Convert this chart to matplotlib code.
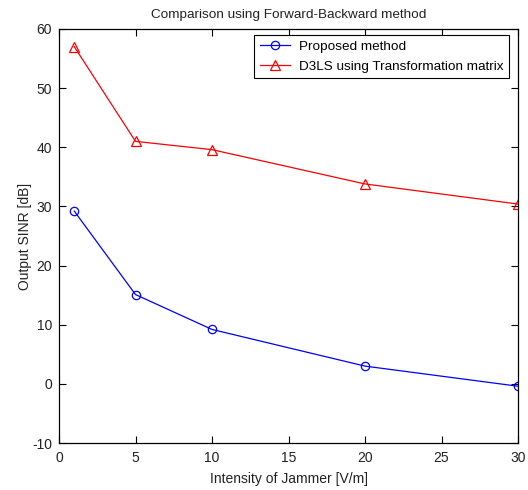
import matplotlib
matplotlib.use("Agg")
import matplotlib.pyplot as plt

plt.rcParams['font.family'] = ['Liberation Sans', 'DejaVu Sans']
plt.rcParams['axes.unicode_minus'] = False

x = [1, 5, 10, 20, 30]
proposed = [29.2, 15.1, 9.2, 3.0, -0.4]
d3ls = [57.0, 41.0, 39.6, 33.8, 30.4]
xticks = [0, 5, 10, 15, 20, 25, 30]
yticks = [-10, 0, 10, 20, 30, 40, 50, 60]

txt = '#222222'
fig = plt.figure(figsize=(5.28, 4.9), dpi=100)
ax = fig.add_axes([59/528, 47/490, 459/528, 414/490])
ax.plot(x, proposed, color='#0000ff', lw=0.9, marker='o', ms=6, mfc='none', mew=0.9,
        label='Proposed method')
ax.plot(x, d3ls, color='#ff0000', lw=0.9, marker='^', ms=6.5, mfc='none', mew=0.9,
        label='D3LS using Transformation matrix')
ax.set_xlim(0, 30)
ax.set_ylim(-10, 60)
ax.set_xticks(xticks)
ax.set_yticks(yticks)
ax.tick_params(direction='in', top=True, right=True, length=5, width=0.8,
               labelsize=10, labelcolor=txt)
ax.tick_params(axis='x', pad=6)
ax.tick_params(axis='y', pad=5)
for s in ax.spines.values():
    s.set_linewidth(0.9)
ax.set_title('Comparison using Forward-Backward method', fontsize=9.7, pad=8, color=txt)
ax.set_xlabel('Intensity of Jammer [V/m]', fontsize=10, labelpad=5, color=txt)
ax.set_ylabel('Output SINR [dB]', fontsize=10, labelpad=0, color=txt)
leg = ax.legend(loc='upper right', bbox_to_anchor=(0.980, 0.9855), fontsize=9.7,
                fancybox=False, edgecolor='black', framealpha=1, borderpad=0.4,
                handlelength=2.2, handletextpad=0.7, labelspacing=0.55, borderaxespad=0)
leg.get_frame().set_linewidth(0.8)
fig.savefig('out.png', dpi=100)
